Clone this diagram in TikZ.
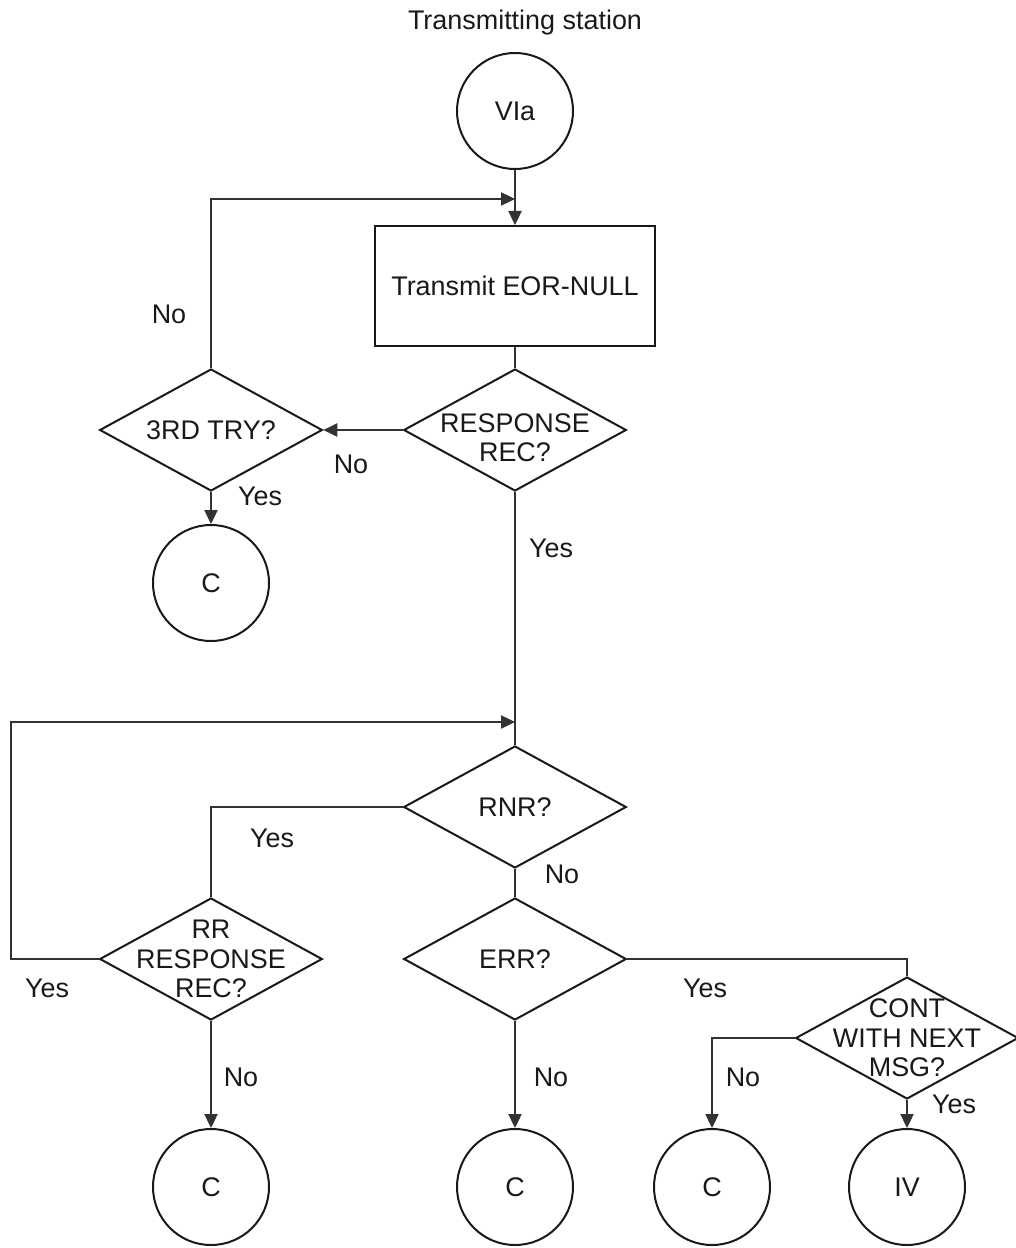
\documentclass[tikz,border=0pt]{standalone}
\usepackage{fontspec}
\setmainfont{Liberation Sans}
\usetikzlibrary{shapes.geometric,arrows.meta}

\begin{document}
\begin{tikzpicture}[x=0.75pt,y=-0.75pt,
  every node/.style={font=\fontsize{20.2}{22}\selectfont, text=black!90, inner sep=0pt},
  term/.style={circle, draw=black!90, line width=1.5pt, minimum size=87pt},
  procbox/.style={rectangle, draw=black!90, line width=1.5pt, minimum width=210pt, minimum height=90pt},
  decide/.style={diamond, draw=black!90, line width=1.5pt, minimum width=167pt, minimum height=91.5pt},
  conn/.style={draw=black!80, line width=0.8pt},
  flow/.style={conn, -{Triangle[length=10.5pt,width=10pt]}},
  lab/.style={anchor=base}
]
\useasboundingbox (0,0) rectangle (1016,1248);

% heading
\node[lab] (title) at (525,30) {Transmitting station};

% entry and first retry loop
\node[term] (via) at (515,111) {VIa};
\coordinate (j1) at (515,199);
\node[procbox] (tx) at (515,286) {Transmit EOR-NULL};
\node[decide, label={[align=center, yshift=-6pt]center:RESPONSE\\REC?}] (resp) at (515,430) {};
\node[decide, label={center:3RD TRY?}] (try) at (211,430) {};
\node[term] (c1) at (211,583) {C};

% second loop
\coordinate (j2) at (515,722);
\coordinate (lft) at (11,722);
\node[decide, label={center:RNR?}] (rnr) at (515,807) {};
\node[decide, label={[align=center]center:RR\\RESPONSE\\REC?}] (rr) at (211,959) {};
\node[decide, label={center:ERR?}] (err) at (515,959) {};
\node[decide, label={[align=center]center:CONT\\WITH NEXT\\MSG?}] (cont) at (907,1038) {};

% exits
\node[term] (c2) at (211,1187) {C};
\node[term] (c3) at (515,1187) {C};
\node[term] (c4) at (712,1187) {C};
\node[term] (iv) at (907,1187) {IV};

% connectors
\draw[flow] (via.south) -- (tx.north);
\draw[flow] (try.north) |- (j1);
\draw[conn] (tx.south) -- (resp.north);
\draw[flow] (resp.west) -- (try.east);
\draw[flow] (try.south) -- (c1.north);
\draw[conn] (resp.south) -- (rnr.north);
\draw[flow] (rr.west) -| (lft) -- (j2);
\draw[conn] (rnr.west) -| (rr.north);
\draw[conn] (rnr.south) -- (err.north);
\draw[conn] (err.east) -| (cont.north);
\draw[flow] (rr.south) -- (c2.north);
\draw[flow] (err.south) -- (c3.north);
\draw[flow] (cont.west) -| (c4.north);
\draw[flow] (cont.south) -- (iv.north);

% branch labels
\node[lab] (l1) at (169,323) {No};
\node[lab] (l2) at (351,473) {No};
\node[lab] (l3) at (260,505) {Yes};
\node[lab] (l4) at (551,557) {Yes};
\node[lab] (l5) at (272,847) {Yes};
\node[lab] (l6) at (562,883) {No};
\node[lab] (l7) at (47,997) {Yes};
\node[lab] (l8) at (705,997) {Yes};
\node[lab] (l9) at (743,1086) {No};
\node[lab] (l10) at (954,1113) {Yes};
\node[lab] (l11) at (241,1086) {No};
\node[lab] (l12) at (551,1086) {No};
\end{tikzpicture}
\end{document}
